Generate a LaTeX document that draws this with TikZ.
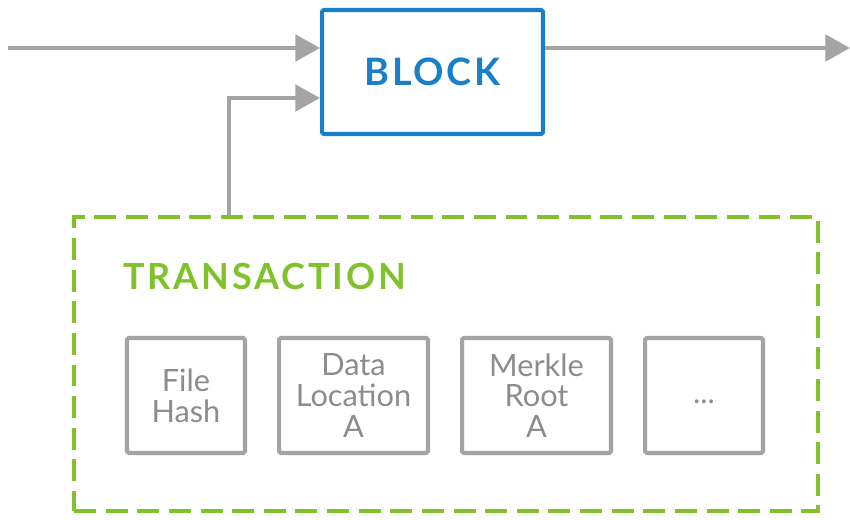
\documentclass[tikz,border=0pt]{standalone}
\usepackage{fontspec}
\setmainfont{Lato}
\usetikzlibrary{positioning,arrows.meta}
\definecolor{blockblue}{RGB}{26,127,200}
\definecolor{txgreen}{RGB}{128,194,42}
\definecolor{linegray}{RGB}{164,164,164}
\definecolor{textgray}{RGB}{140,140,140}

\begin{document}
\begin{tikzpicture} [x=0.02cm,y=-0.02cm,
       blockbox/.style={draw=blockblue,line width=2.3pt,rounded corners=1pt,minimum width=4.42cm,minimum height=2.48cm,text=blockblue,font=\fontsize{21.5}{24}\selectfont\bfseries\addfontfeature{LetterSpace=7}},
       txbox/.style={draw=txgreen,line width=2.3pt,dash pattern=on 12.5pt off 5.5pt,minimum width=14.88cm,minimum height=5.88cm},
       field/.style={draw=linegray,line width=2.3pt,rounded corners=1pt,minimum height=2.3cm,align=center,text=textgray,font=\fontsize{17.5}{17.5}\selectfont},
       flow/.style={draw=linegray,line width=2.3pt,-{Triangle[length=14pt,width=15pt]}}]
       \useasboundingbox (0,0) rectangle (850,520);
       \node [blockbox] (block) at (432.5,72) {BLOCK};
       \node [txbox] (trans) at (446,364) {};
       \node [anchor=base west,inner sep=0pt,text=txgreen,font=\fontsize{20.5}{24}\selectfont\bfseries\addfontfeature{LetterSpace=8}] (title) at (123,290) {TRANSACTION};
       % fields of the transaction
       \node [field,minimum width=2.36cm] (hash) at (186,395.5) {File\\Hash};
       \node [field,minimum width=2.98cm,right=0.6cm of hash] (loc) {Data\\Location\\A};
       \node [field,minimum width=2.98cm,right=0.6cm of loc] (root) {Merkle\\Root\\A};
       \node [field,minimum width=2.36cm,right=0.6cm of root] (more) {\smash{\raisebox{-4.5pt}{...}}};
       % connectors
       \coordinate (in) at (8,48);
       \coordinate (out) at (850,48);
       \coordinate (tap) at (229,98);
       \draw [flow] (in) -- (in -| block.west);
       \draw [flow] (out -| block.east) -- (out);
       \draw [flow] (trans.north -| tap) |- (tap -| block.west);
    \end{tikzpicture}
\end{document}
